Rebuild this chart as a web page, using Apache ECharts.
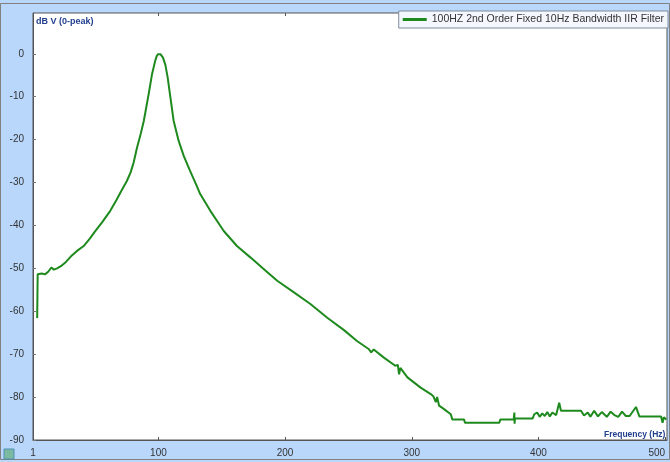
<!doctype html>
<html>
<head>
<meta charset="UTF-8">
<title>100HZ 2nd Order Fixed 10Hz Bandwidth IIR Filter</title>
<script src="https://cdn.jsdelivr.net/npm/echarts@6/dist/echarts.min.js"></script>
<style>
  html, body { margin: 0; padding: 0; }
  #main { width: 670px; height: 462px; background: #b8d7fb; }
</style>
</head>
<body>
<div id="main"></div>
<script type="text/javascript">
// values
var seriesName = '100HZ 2nd Order Fixed 10Hz Bandwidth IIR Filter';
var xTickLabels = [1, 100, 200, 300, 400, 500];

var freqHz = [
    4.3, 4.7, 6, 8, 10.5, 13, 15.5, 17.5, 20, 23, 27, 31, 35.5, 41, 46, 50, 55.5, 62, 67, 71, 75, 78, 80.5,
    83, 86, 88.5, 92.3, 95, 97.5, 98.6, 99.6, 100.6, 101.6, 102.6, 103.6, 105.5, 107.3, 109.5, 112, 116, 120, 125, 130, 133,
    141, 151.6, 162, 172.8, 183.3, 193.8, 207, 220, 233.3, 246.5, 257, 266, 268, 270, 278, 287, 289, 290,
    291, 296.6, 307, 315, 317, 319, 320, 321.6, 325.5, 330.8, 332, 341.3, 342, 369, 370, 380.5, 381, 381.2,
    381.5, 395.4, 396.7, 399, 401, 403, 405, 407, 409, 411, 414, 416.4, 417.8, 433.6, 436, 439, 441, 444,
    447, 450, 454, 457, 460, 463, 466, 469, 472, 477, 479.7, 496.8, 498, 499, 501
];
var levelDb = [
    -61.6, -51.4, -51.8, -51.2, -51.4, -50.8, -49.8, -50.3, -50, -49.5, -48.5, -47.2, -46, -44.8, -43, -41.4, -39.3, -36.6, -34, -31.8, -29.7, -27.7, -25.3,
    -22, -18.7, -15.6, -9.4, -4.7, -1.6, -0.6, -0.1, 0, -0.1, -0.4, -0.9, -2.6, -5.5, -10.2, -15.6, -20.3, -23.8, -27.3, -30.6, -32.7,
    -36.6, -41.3, -44.8, -47.5, -50.2, -52.9, -55.6, -58.3, -61.5, -64.4, -67, -68.8, -69.6, -68.9, -70.8, -72.7, -72.5, -74.7,
    -73.2, -75.4, -77.8, -79.3, -79.8, -81.2, -80, -82, -82.8, -84, -85.2, -85.2, -86, -86, -85.2, -85.2, -83.6, -86.2,
    -85, -85, -84, -83.6, -84.6, -83.8, -84.4, -83.5, -84.5, -83.6, -84.2, -81.3, -83.2, -83.2, -84.3, -83.6, -84.6, -83.2,
    -84.5, -83.5, -84.6, -83.4, -84.2, -84.6, -83.4, -84.4, -84.4, -82.3, -84.5, -84.5, -86, -84.7, -85.2
];

var points = freqHz.map(function (f, i) { return [f, levelDb[i]]; });

var myChart = echarts.init(document.getElementById('main'));

var option = {
    animation: false,
    textStyle: { fontFamily: 'Liberation Sans, Arial, sans-serif' },
    grid: {
        left: 33, right: 3, top: 13, bottom: 22,
        outerBoundsMode: 'none',
        show: true,
        backgroundColor: '#ffffff',
        borderColor: '#555555',
        borderWidth: 1
    },
    legend: {
        top: 11, right: 2,
        padding: [3, 4, 3, 4],
        backgroundColor: '#f4f8fe',
        borderColor: '#7f8a99',
        borderWidth: 1,
        borderRadius: 0,
        itemWidth: 24, itemHeight: 3,
        itemGap: 6,
        icon: 'rect',
        textStyle: { fontSize: 10.5, color: '#333333' },
        data: [seriesName]
    },
    graphic: [
        { type: 'rect', shape: { x: 0.5, y: 3.5, width: 669, height: 456 }, style: { fill: 'none', stroke: '#808080', lineWidth: 1 }, silent: true },
        { type: 'rect', shape: { x: 4, y: 449, width: 10, height: 10 }, style: { fill: '#7bb9a0', stroke: '#4f8fb6', lineWidth: 1 }, silent: true }
    ],
    xAxis: [
        {
            type: 'value',
            min: 1, max: 501.5,
            name: 'Frequency (Hz)',
            nameLocation: 'end',
            nameGap: -63,
            nameTextStyle: { fontSize: 8.5, fontWeight: 'bold', color: '#23408e', verticalAlign: 'bottom', padding: [0, 0, 1, 0] },
            splitLine: { show: false },
            axisLine: { onZero: false, lineStyle: { color: '#555555' } },
            axisTick: { inside: true, length: 3, customValues: xTickLabels, lineStyle: { color: '#555555' } },
            axisLabel: { customValues: xTickLabels, alignMaxLabel: 'right', fontSize: 10, color: '#333333', margin: 8 }
        },
        {
            type: 'value',
            position: 'top',
            min: 1, max: 501.5,
            splitLine: { show: false },
            axisLine: { show: false, onZero: false },
            axisTick: { show: true, inside: true, length: 3, customValues: xTickLabels, lineStyle: { color: '#555555' } },
            axisLabel: { show: false }
        }
    ],
    yAxis: {
        type: 'value',
        min: -90, max: 9.5, interval: 10,
        name: 'dB V (0-peak)',
        nameLocation: 'end',
        nameGap: 0,
        nameTextStyle: { fontSize: 9, fontWeight: 'bold', color: '#23408e', align: 'left', verticalAlign: 'top', padding: [4, 0, 0, 3] },
        splitLine: { show: false },
        axisLine: { show: true, onZero: false, lineStyle: { color: '#555555' } },
        axisTick: { show: true, inside: true, length: 3, lineStyle: { color: '#777777' } },
        axisLabel: { showMaxLabel: false, fontSize: 10, color: '#333333', margin: 9 }
    },
    series: [
        {
            name: seriesName,
            type: 'line',
            data: points,
            showSymbol: false,
            smooth: false,
            lineStyle: { color: '#1e8a1e', width: 2 },
            itemStyle: { color: '#1e8a1e' }
        }
    ]
};

myChart.setOption(option);
</script>
</body>
</html>
